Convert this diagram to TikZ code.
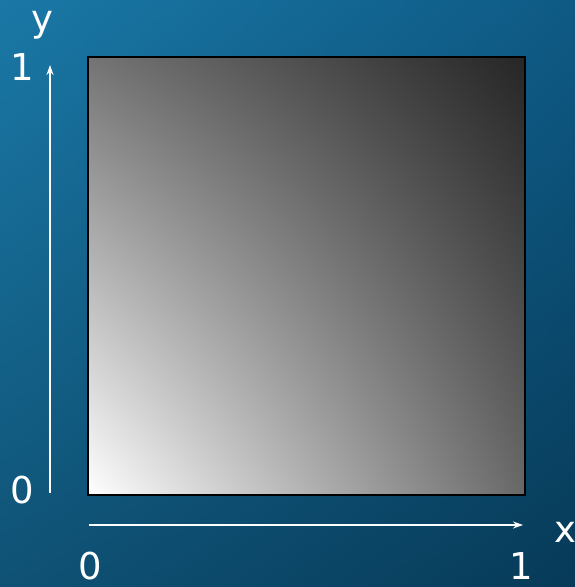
\documentclass[tikz,border=0pt]{standalone}
\usepackage{xcolor}
\definecolor{bgTL}{HTML}{1A78A6}
\definecolor{bgTR}{HTML}{0E5A85}
\definecolor{bgBL}{HTML}{0F5275}
\definecolor{bgBR}{HTML}{073A58}
\definecolor{sqUR}{HTML}{262626}
\definecolor{sqUL}{HTML}{747474}
\definecolor{sqLR}{HTML}{686868}
\usepackage{fontspec}
\setmainfont{DejaVu Sans}
\usepackage{tikz}
\usetikzlibrary{arrows.meta, positioning, shadings}

\begin{document}
\begin{tikzpicture}[x=1pt, y=1pt,
		axlabel/.style={text=white, font=\fontsize{37}{44}\selectfont, inner sep=0pt},
		axline/.style={white, line width=1.6pt, -{Stealth[length=10pt, width=7pt]}}]
	% background
	\shade[upper left=bgTL, upper right=bgTR, lower left=bgBL, lower right=bgBR] (0,0) rectangle (575,587);
	\useasboundingbox (0,0) rectangle (575,587);
	% unit square
	\shade[lower left=white, upper right=sqUR, upper left=sqUL, lower right=sqLR] (88,92) rectangle (525,530);
	\draw[black, line width=2pt] (88,92) rectangle (525,530);
	% axes
	\coordinate (yfrom) at (50,94);
	\coordinate (yto) at (50,522);
	\coordinate (xfrom) at (89,62);
	\coordinate (xto) at (523,62);
	\draw[axline] (yfrom) -- (yto);
	\draw[axline] (xfrom) -- (xto);
	\node[axlabel] (ylab) at (42,562) {y};
	\node[axlabel] (yone) at (22,520) {1};
	\node[axlabel] (yzero) at (22,97) {0};
	\node[axlabel] (xlab) at (565,55) {x};
	\node[axlabel] (xzero) at (90,21) {0};
	\node[axlabel] (xone) at (521,21) {1};
\end{tikzpicture}
\end{document}
